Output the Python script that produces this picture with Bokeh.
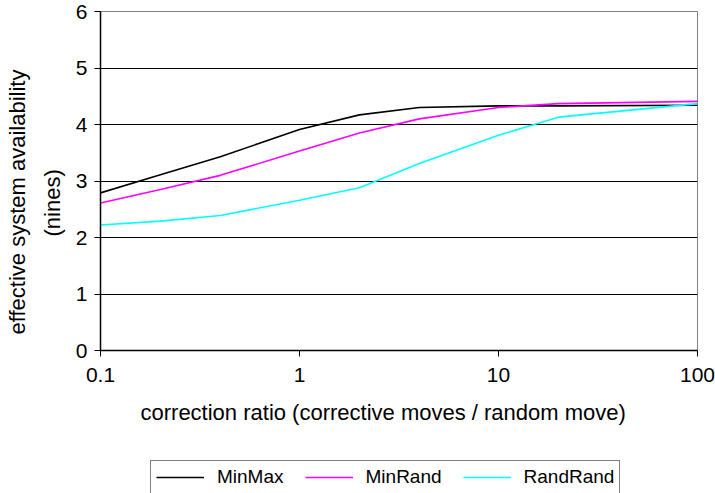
from bokeh.plotting import figure
from bokeh.layouts import column
from bokeh.models import (Range1d, FixedTicker, CustomJSTickFormatter, Legend, LegendItem, Title)
from bokeh.embed import file_html
from bokeh.resources import INLINE

# data
ratio = [0.1, 0.2, 0.4, 1, 2, 4, 10, 20, 100]
minmax = [2.79, 3.11, 3.43, 3.91, 4.17, 4.30, 4.33, 4.33, 4.34]
minrand = [2.61, 2.85, 3.10, 3.53, 3.85, 4.10, 4.30, 4.37, 4.41]
randrand = [2.22, 2.29, 2.39, 2.66, 2.88, 3.31, 3.81, 4.13, 4.37]
series_names = ["MinMax", "MinRand", "RandRand"]
series_colors = ["#000000", "#FF00FF", "#00FFFF"]
x_ticks = [0.1, 1, 10, 100]
y_ticks = [0, 1, 2, 3, 4, 5, 6]
x_title = "correction ratio (corrective moves / random move)"
y_title_lines = ["effective system availability", "(nines)"]

FONT = "Liberation Sans"

p = figure(width=715, height=450, x_axis_type="log",
           x_range=Range1d(0.1, 100), y_range=Range1d(0, 6),
           output_backend="svg", toolbar_location=None,
           min_border_left=100, min_border_right=18, min_border_top=11, min_border_bottom=100)

p.background_fill_color = "white"
p.outline_line_color = "#808080"
p.outline_line_width = 1

p.xgrid.visible = False
p.ygrid.grid_line_color = "black"
p.ygrid.grid_line_width = 1
p.ygrid.ticker = FixedTicker(ticks=y_ticks)

p.xaxis.ticker = FixedTicker(ticks=x_ticks)
p.xaxis.formatter = CustomJSTickFormatter(code="return tick.toString();")
p.yaxis.ticker = FixedTicker(ticks=y_ticks)

for ax in (p.xaxis, p.yaxis):
    ax.axis_line_color = "black"
    ax.axis_line_width = 1.5
    ax.major_tick_line_color = "black"
    ax.major_tick_line_width = 1
    ax.major_tick_out = 6
    ax.major_tick_in = 0
    ax.minor_tick_line_color = None
    ax.major_label_text_font = FONT
    ax.major_label_text_font_size = "21px"
    ax.major_label_text_color = "black"

p.xaxis.major_label_standoff = 11
p.yaxis.major_label_standoff = 7

# axis titles (centred on the whole chart area, as in the reference)
def add_title(text, place, standoff, offset):
    t = Title(text=text, align="left", offset=offset, standoff=standoff,
              text_font=FONT, text_font_size="22px", text_font_style="normal",
              text_color="black", text_line_height=1.0)
    p.add_layout(t, place)

add_title(x_title, "below", 26, 40)
add_title(y_title_lines[1], "left", 16, 114)
add_title(y_title_lines[0], "left", 0, 16)

for ys, c in zip([minmax, minrand, randrand], series_colors):
    p.line(ratio, ys, line_color=c, line_width=1.6)

# legend strip below the chart (its frame is aligned with the chart's frame)
lg = figure(width=715, height=43, x_range=Range1d(0, 1), y_range=Range1d(0, 1),
            output_backend="svg", toolbar_location=None,
            x_axis_location=None, y_axis_location=None,
            min_border_left=0, min_border_right=0, min_border_top=0, min_border_bottom=0)
lg.grid.visible = False
lg.outline_line_color = None
items = []
for name, c in zip(series_names, series_colors):
    # invisible proxy (NaN point) so the legend can draw the line swatch
    r = lg.line([0], [float("nan")], line_color=c, line_width=1.6)
    items.append(LegendItem(label=name, renderers=[r]))

legend = Legend(items=items, orientation="horizontal", location=(50, -1),
                glyph_width=48, glyph_height=16, label_height=16,
                label_standoff=13, spacing=21, padding=5, margin=0,
                label_text_font=FONT, label_text_font_size="19px",
                label_text_color="black",
                border_line_color="black", border_line_width=1,
                background_fill_color="white", background_fill_alpha=1)
lg.add_layout(legend)

layout = column(p, lg, spacing=0)
open("out.html", "w").write(file_html(layout, INLINE))
